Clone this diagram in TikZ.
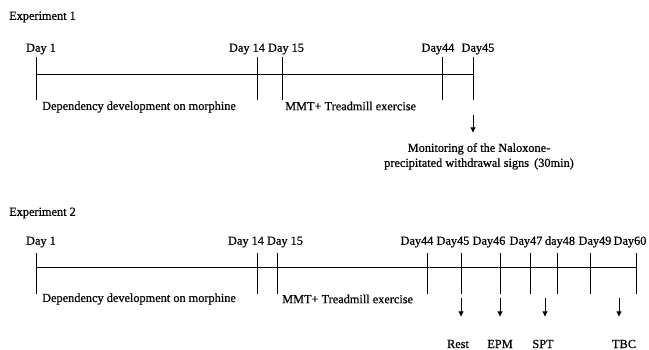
\documentclass[tikz,border=0pt]{standalone}
\usepackage{fontspec}
\setmainfont{Liberation Serif}[FakeBold=0.6]
\usetikzlibrary{arrows.meta}
\begin{document}
\begin{tikzpicture}[x=1pt, y=-1pt,
    every node/.style={font=\fontsize{12.3}{15}\selectfont, inner sep=0pt},
    line/.style={line width=0.9pt},
    pointer/.style={line width=0.9pt, -{Latex[length=5.5pt, width=5.5pt]}}]
  \useasboundingbox (0,0) rectangle (649,350);

  % Experiment 1
  \node[anchor=west] (t1) at (9,17) {Experiment 1};
  \coordinate (s1) at (36,74);
  \coordinate (e1) at (473,74);
  \draw[line] (s1) -- (e1);
  \foreach \n/\x/\tx/\name in {a/36/41/Day 1, b/257/247/Day 14, c/282/286/Day 15, d/442/438/Day44, e/473/478/Day45} {
    \node (1\n) at (\tx,49) {\name};
    \draw[line] (\x,57) -- (\x,100);
  }
  \node[anchor=west] (dep1) at (42,107) {Dependency development on morphine};
  \node[anchor=west] (mmt1) at (285,106) {MMT+ Treadmill exercise};
  \coordinate (p1) at (473,115);
  \node[align=center, anchor=north] (mon) at (479,143) {Monitoring of the Naloxone-\\precipitated withdrawal signs\, (30min)};
  \draw[pointer] (p1) -- (473,133);

  % Experiment 2
  \node[anchor=west] (t2) at (9,213) {Experiment 2};
  \coordinate (s2) at (36,267);
  \coordinate (e2) at (636,267);
  \draw[line] (s2) -- (e2);
  \foreach \n/\x/\tx/\name in {a/36/41/Day 1, b/257/246/Day 14, c/277/285/Day 15, d/427/417/Day44, e/461/453/Day45,
      f/500/489/Day46, g/530/526/Day47, h/557/560/day48, i/590/595/Day49, j/636/630/Day60} {
    \node (2\n) at (\tx,242) {\name};
    \draw[line] (\x,253) -- (\x,294);
  }
  \node[anchor=west] (dep2) at (42,299) {Dependency development on morphine};
  \node[anchor=west] (mmt2) at (282,299) {MMT+ Treadmill exercise};

  % tests
  \foreach \n/\x/\tx/\name in {rest/461/458/Rest, epm/500/500/EPM, spt/545/543/SPT, tbc/619/624/TBC} {
    \node (\n) at (\tx,344) {\name};
    \draw[pointer] (\x,298) -- (\x,317);
  }
\end{tikzpicture}
\end{document}
